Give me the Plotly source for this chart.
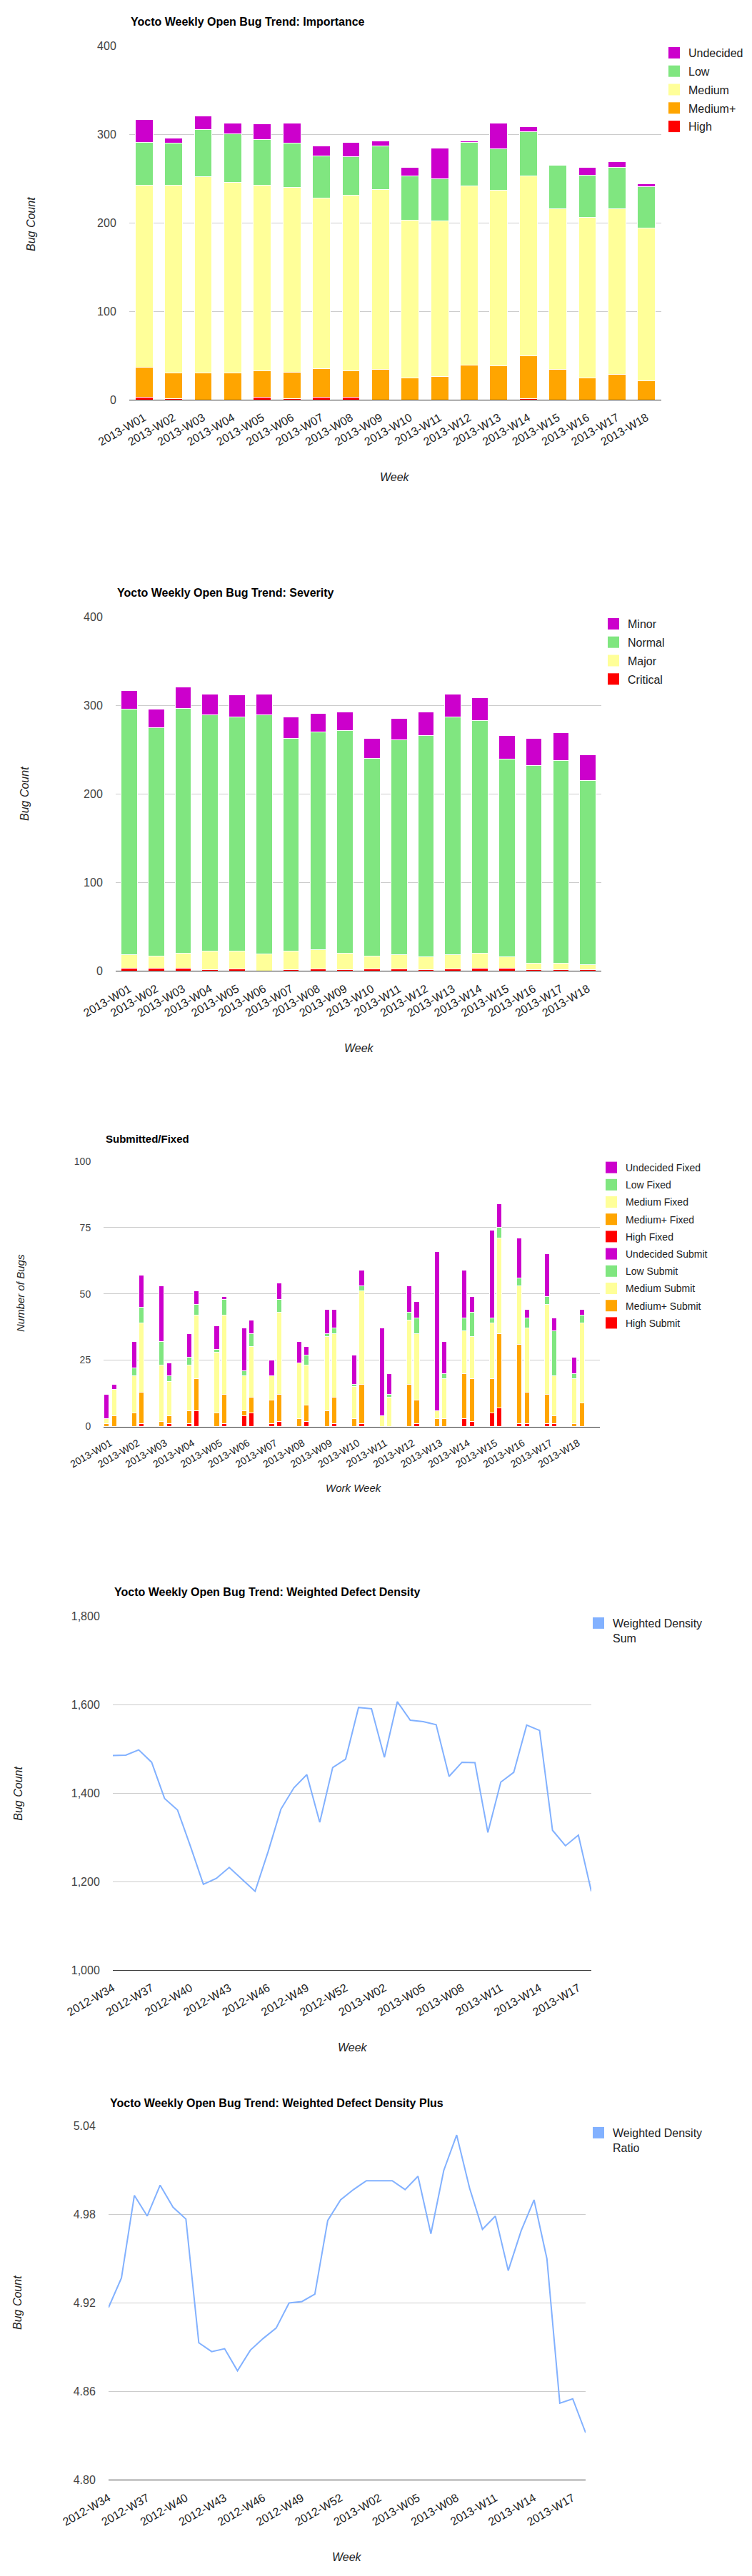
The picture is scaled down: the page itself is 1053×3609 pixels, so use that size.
import plotly.graph_objects as go

# ---------------- data ----------------
weeks = ["2013-W01", "2013-W02", "2013-W03", "2013-W04", "2013-W05", "2013-W06",
         "2013-W07", "2013-W08", "2013-W09", "2013-W10", "2013-W11", "2013-W12",
         "2013-W13", "2013-W14", "2013-W15", "2013-W16", "2013-W17", "2013-W18"]

# Importance (open bugs)
imp_high = [3, 1, 0, 0, 3, 1, 3, 3, 0, 0, 0, 0, 0, 1, 0, 0, 0, 0]
imp_medplus = [34, 29, 30, 30, 30, 30, 32, 30, 34, 25, 26, 39, 38, 49, 34, 25, 29, 21]
imp_medium = [206, 213, 222, 216, 210, 209, 193, 198, 204, 178, 176, 203, 199, 203, 182, 181, 187, 173]
imp_low = [48, 47, 54, 55, 51, 50, 48, 44, 49, 50, 48, 49, 47, 50, 49, 48, 47, 47]
imp_undecided = [26, 6, 15, 12, 18, 23, 11, 16, 6, 10, 35, 2, 29, 6, 1, 9, 6, 3]

# Severity (open bugs)
sev_critical = [3, 3, 3, 1, 2, 0, 1, 2, 1, 2, 2, 1, 2, 3, 3, 1, 1, 1]
sev_major = [15, 14, 17, 21, 20, 19, 21, 22, 19, 15, 16, 15, 16, 17, 13, 8, 8, 6]
sev_normal = [278, 258, 277, 267, 265, 270, 241, 246, 252, 223, 243, 250, 269, 263, 223, 223, 229, 208]
sev_minor = [21, 21, 24, 24, 25, 24, 24, 21, 21, 23, 24, 27, 26, 26, 27, 31, 31, 29]

# Submitted / Fixed
fix_high = [0, 0, 0, 1, 0, 4, 1, 0, 0, 0, 0, 0, 0, 3, 5, 1, 1, 0]
fix_medplus = [1, 5, 2, 5, 5, 2, 9, 3, 6, 3, 0, 16, 3, 17, 13, 30, 11, 1]
fix_medium = [2, 14, 21, 17, 23, 13, 9, 21, 28, 12, 4, 24, 3, 16, 21, 22, 34, 17]
fix_low = [0, 3, 9, 3, 1, 2, 0, 0, 1, 1, 0, 3, 0, 5, 2, 3, 3, 2]
fix_undecided = [9, 10, 21, 9, 9, 16, 6, 8, 9, 11, 33, 10, 60, 18, 33, 15, 16, 6]

sub_high = [0, 1, 1, 6, 1, 5, 2, 2, 1, 1, 0, 1, 0, 2, 7, 1, 1, 0]
sub_medplus = [4, 12, 3, 12, 11, 6, 10, 6, 10, 15, 0, 9, 3, 16, 28, 12, 3, 9]
sub_medium = [10, 26, 13, 24, 30, 19, 31, 15, 24, 35, 11, 25, 15, 16, 36, 24, 15, 30]
sub_low = [0, 6, 2, 4, 6, 5, 5, 4, 2, 2, 1, 6, 2, 9, 4, 4, 17, 3]
sub_undecided = [2, 12, 5, 5, 1, 5, 6, 3, 7, 6, 8, 6, 12, 6, 9, 3, 5, 2]

# Weighted defect density
dens_weeks = ["2012-W34", "2012-W35", "2012-W36", "2012-W37", "2012-W38", "2012-W39",
              "2012-W40", "2012-W41", "2012-W42", "2012-W43", "2012-W44", "2012-W45",
              "2012-W46", "2012-W47", "2012-W48", "2012-W49", "2012-W50", "2012-W51",
              "2012-W52", "2012-W53", "2013-W01", "2013-W02", "2013-W03", "2013-W04",
              "2013-W05", "2013-W06", "2013-W07", "2013-W08", "2013-W09", "2013-W10",
              "2013-W11", "2013-W12", "2013-W13", "2013-W14", "2013-W15", "2013-W16",
              "2013-W17", "2013-W18"]
dens_tick_labels = ["2012-W34", "2012-W37", "2012-W40", "2012-W43", "2012-W46", "2012-W49",
                    "2012-W52", "2013-W02", "2013-W05", "2013-W08", "2013-W11", "2013-W14",
                    "2013-W17"]
dens_sum = [1485, 1486, 1498, 1470, 1388, 1362, 1280, 1194, 1207, 1232, 1205, 1178, 1267,
            1364, 1412, 1442, 1334, 1458, 1477, 1594, 1591, 1481, 1607, 1565, 1562, 1555,
            1438, 1470, 1469, 1311, 1425, 1447, 1554, 1542, 1316, 1281, 1305, 1178]
dens_ratio = [4.917, 4.937, 4.993, 4.979, 5.000, 4.985, 4.977, 4.893, 4.887, 4.889, 4.874,
              4.888, 4.896, 4.903, 4.920, 4.921, 4.926, 4.976, 4.990, 4.997, 5.003, 5.003,
              5.003, 4.997, 5.006, 4.967, 5.010, 5.034, 4.998, 4.970, 4.979, 4.942, 4.969,
              4.990, 4.950, 4.852, 4.855, 4.832]

sum_ticks = [1000, 1200, 1400, 1600, 1800]
ratio_ticks = [4.80, 4.86, 4.92, 4.98, 5.04]

# ---------------- style ----------------
W, H = 1053, 3609
FONT = "Arial, 'Liberation Sans', sans-serif"
C_UND, C_LOW, C_MED, C_MEDP, C_HIGH = "#CC00CC", "#80E680", "#FFFF99", "#FFA500", "#FF0000"
C_LINE = "#82B1FF"


def xdom(l, r):
    return [l / W, r / W]


def ydom(t, b):
    return [1 - b / H, 1 - t / H]


def xstyle(size=16, **kw):
    d = dict(showgrid=False, showline=True, linecolor="#333333", linewidth=1,
             ticks="outside", ticklen=9, tickcolor="rgba(0,0,0,0)", tickangle=-30,
             tickfont=dict(family=FONT, size=size, color="#222222"), zeroline=False,
             fixedrange=True, automargin=False)
    d.update(kw)
    return d


def ystyle(size=16, **kw):
    d = dict(showgrid=True, gridcolor="#CCCCCC", gridwidth=1, zeroline=False,
             showline=False, ticks="outside", ticklen=14, tickcolor="rgba(0,0,0,0)",
             tickfont=dict(family=FONT, size=size, color="#444444"), fixedrange=True,
             automargin=False)
    d.update(kw)
    return d


def lstyle(x, y, size=16, gap=2):
    return dict(x=x / W, y=1 - y / H, xanchor="left", yanchor="top",
                font=dict(family=FONT, size=size, color="#222222"),
                bgcolor="rgba(0,0,0,0)", traceorder="grouped", tracegroupgap=gap,
                valign="top", itemsizing="trace")


fig = go.Figure()
bar_line = dict(color="white", width=1)


def swatch(name, color, legend, rank, xa, ya):
    # legend-only entry drawn as a 16px square, like the reference legend keys
    fig.add_trace(go.Scatter(x=[None], y=[None], mode="markers", name=name,
                             marker=dict(symbol="square", size=16, color=color),
                             xaxis=xa, yaxis=ya, legend=legend, legendgroup=legend + name,
                             legendrank=rank, hoverinfo="skip"))


# Chart 1: Importance
for name, vals, col, rank in [("High", imp_high, C_HIGH, 5), ("Medium+", imp_medplus, C_MEDP, 4),
                              ("Medium", imp_medium, C_MED, 3), ("Low", imp_low, C_LOW, 2),
                              ("Undecided", imp_undecided, C_UND, 1)]:
    fig.add_trace(go.Bar(x=weeks, y=vals, name=name, marker=dict(color=col, line=bar_line),
                         xaxis="x", yaxis="y", showlegend=False))
    swatch(name, col, "legend", rank, "x", "y")

# Chart 2: Severity
for name, vals, col, rank in [("Critical", sev_critical, C_HIGH, 4), ("Major", sev_major, C_MED, 3),
                              ("Normal", sev_normal, C_LOW, 2), ("Minor", sev_minor, C_UND, 1)]:
    fig.add_trace(go.Bar(x=weeks, y=vals, name=name, marker=dict(color=col, line=bar_line),
                         xaxis="x2", yaxis="y2", showlegend=False))
    swatch(name, col, "legend2", rank, "x2", "y2")

# Chart 3: Submitted / Fixed (grouped stacks on a numeric week index)
idx = list(range(len(weeks)))
OFF, BW = 0.134, 0.184
fixed_x = [i - OFF for i in idx]
sub_x = [i + OFF for i in idx]
for name, vals, col, rank in [("High Fixed", fix_high, C_HIGH, 5), ("Medium+ Fixed", fix_medplus, C_MEDP, 4),
                              ("Medium Fixed", fix_medium, C_MED, 3), ("Low Fixed", fix_low, C_LOW, 2),
                              ("Undecided Fixed", fix_undecided, C_UND, 1)]:
    fig.add_trace(go.Bar(x=fixed_x, y=vals, width=BW, name=name, marker=dict(color=col, line=bar_line),
                         xaxis="x3", yaxis="y3", showlegend=False))
    swatch(name, col, "legend3", rank, "x3", "y3")
for name, vals, col, rank in [("High Submit", sub_high, C_HIGH, 10), ("Medium+ Submit", sub_medplus, C_MEDP, 9),
                              ("Medium Submit", sub_medium, C_MED, 8), ("Low Submit", sub_low, C_LOW, 7),
                              ("Undecided Submit", sub_undecided, C_UND, 6)]:
    fig.add_trace(go.Bar(x=sub_x, y=vals, width=BW, name=name, marker=dict(color=col, line=bar_line),
                         xaxis="x3", yaxis="y3", showlegend=False))
    swatch(name, col, "legend3", rank, "x3", "y3")

# Chart 4: Weighted Defect Density
fig.add_trace(go.Scatter(x=dens_weeks, y=dens_sum, mode="lines", line=dict(color=C_LINE, width=2),
                         xaxis="x4", yaxis="y4", showlegend=False))
swatch("Weighted Density<br>Sum", C_LINE, "legend4", 1, "x4", "y4")

# Chart 5: Weighted Defect Density Plus
fig.add_trace(go.Scatter(x=dens_weeks, y=dens_ratio, mode="lines", line=dict(color=C_LINE, width=2),
                         xaxis="x5", yaxis="y5", showlegend=False))
swatch("Weighted Density<br>Ratio", C_LINE, "legend5", 1, "x5", "y5")

P1 = (181, 926, 64.6, 560.0)
P2 = (162, 842, 864.4, 1360.2)
P3 = (145, 840, 1626.7, 1998.5)
P4 = (158, 828, 2264.6, 2759.9)
P5 = (152, 820, 2978.8, 3474.3)

layout = dict(
    width=W, height=H, margin=dict(l=0, r=0, t=0, b=0, pad=0, autoexpand=False),
    paper_bgcolor="white", plot_bgcolor="white",
    font=dict(family=FONT, color="#222222"),
    barmode="stack", bargap=0.4,
    xaxis=xstyle(domain=xdom(P1[0], P1[1]), anchor="y", type="category"),
    yaxis=ystyle(domain=ydom(P1[2], P1[3]), anchor="x", range=[0, 400],
                 tickvals=[0, 100, 200, 300, 400]),
    xaxis2=xstyle(domain=xdom(P2[0], P2[1]), anchor="y2", type="category"),
    yaxis2=ystyle(domain=ydom(P2[2], P2[3]), anchor="x2", range=[0, 400],
                  tickvals=[0, 100, 200, 300, 400]),
    xaxis3=xstyle(size=14, domain=xdom(P3[0], P3[1]), anchor="y3", type="linear",
                  range=[-0.2465, 17.79], tickmode="array", tickvals=idx, ticktext=weeks),
    yaxis3=ystyle(size=14, domain=ydom(P3[2], P3[3]), anchor="x3", range=[0, 100],
                  tickvals=[0, 25, 50, 75, 100]),
    xaxis4=xstyle(domain=xdom(P4[0], P4[1]), anchor="y4", type="category",
                  tickmode="array", tickvals=dens_tick_labels, ticktext=dens_tick_labels),
    yaxis4=ystyle(domain=ydom(P4[2], P4[3]), anchor="x4", range=[1000, 1800],
                  tickvals=sum_ticks, ticktext=[f"{v:,}" for v in sum_ticks]),
    xaxis5=xstyle(domain=xdom(P5[0], P5[1]), anchor="y5", type="category",
                  tickmode="array", tickvals=dens_tick_labels, ticktext=dens_tick_labels),
    yaxis5=ystyle(domain=ydom(P5[2], P5[3]), anchor="x5", range=[4.80, 5.04],
                  tickvals=ratio_ticks, ticktext=[f"{v:.2f}" for v in ratio_ticks]),
    legend=lstyle(924, 57, 16, 2),
    legend2=lstyle(839, 857, 16, 2),
    legend3=lstyle(836, 1620, 14, 3),
    legend4=lstyle(818, 2257, 16, 2),
    legend5=lstyle(818, 2971, 16, 2),
)
fig.update_layout(**layout)


def ann(text, x, y, size=16, bold=False, italic=False, angle=0, xanchor="center"):
    if bold:
        text = "<b>" + text + "</b>"
    if italic:
        text = "<i>" + text + "</i>"
    fig.add_annotation(text=text, x=x / W, y=1 - y / H, xref="paper", yref="paper",
                       showarrow=False, xanchor=xanchor, yanchor="middle", textangle=angle,
                       font=dict(family=FONT, size=size, color="#000000" if bold else "#222222"))


# titles
ann("Yocto Weekly Open Bug Trend: Importance", 181, 30.5, 16, bold=True, xanchor="left")
ann("Yocto Weekly Open Bug Trend: Severity", 162, 830.7, 16, bold=True, xanchor="left")
ann("Submitted/Fixed", 146, 1595, 15, bold=True, xanchor="left")
ann("Yocto Weekly Open Bug Trend: Weighted Defect Density", 158, 2230.5, 16, bold=True, xanchor="left")
ann("Yocto Weekly Open Bug Trend: Weighted Defect Density Plus", 152, 2946, 16, bold=True, xanchor="left")

# axis titles
ann("Week", 553, 668.6, 16, italic=True)
ann("Bug Count", 44, 314, 16, italic=True, angle=-90)
ann("Week", 503, 1468.8, 16, italic=True)
ann("Bug Count", 34, 1112, 16, italic=True, angle=-90)
ann("Work Week", 495, 2084, 15, italic=True)
ann("Number of Bugs", 28, 1812, 15, italic=True, angle=-90)
ann("Week", 493.5, 2868.5, 16, italic=True)
ann("Bug Count", 26, 2512.7, 16, italic=True, angle=-90)
ann("Week", 486, 3582, 16, italic=True)
ann("Bug Count", 24, 3226, 16, italic=True, angle=-90)

fig.write_html(
    "out.html",
    config={"displayModeBar": False},
    post_script=("document.body.style.margin='0';"
                 "document.body.style.overflow='hidden';"
                 "document.documentElement.style.overflow='hidden';"),
)
